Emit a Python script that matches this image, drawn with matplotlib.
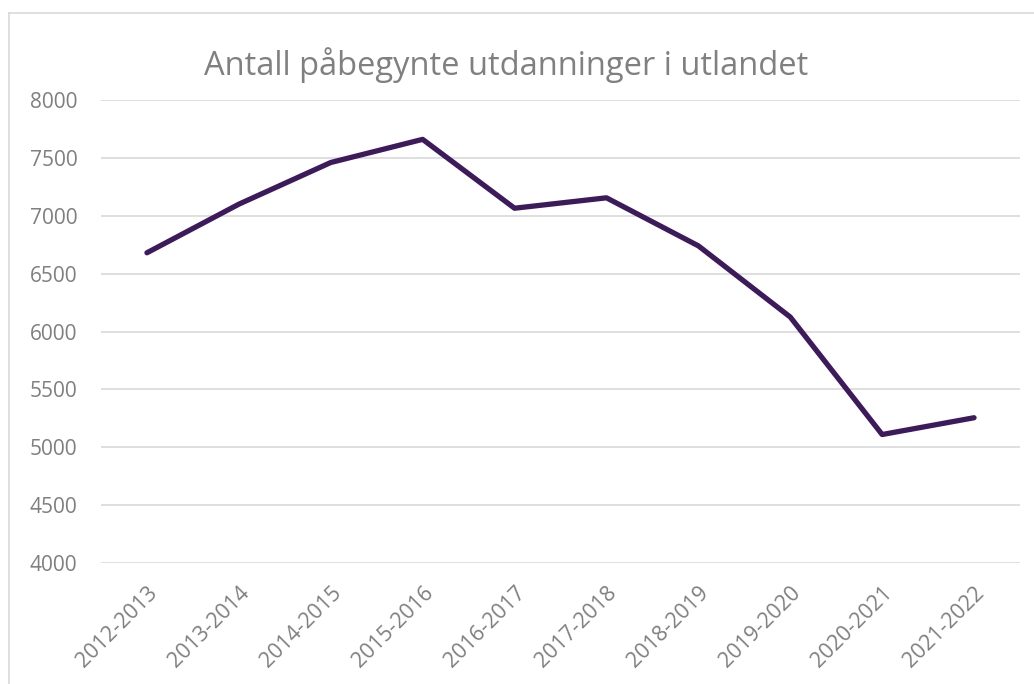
import matplotlib
matplotlib.use('Agg')
import matplotlib.pyplot as plt
from matplotlib.lines import Line2D

plt.rcParams['font.family'] = ['Open Sans', 'DejaVu Sans']

# ===== data =====
years = ['2012-2013', '2013-2014', '2014-2015', '2015-2016', '2016-2017',
         '2017-2018', '2018-2019', '2019-2020', '2020-2021', '2021-2022']
antall = [6680, 7100, 7460, 7660, 7065, 7155, 6740, 6125, 5110, 5255]
y_ticks = [4000, 4500, 5000, 5500, 6000, 6500, 7000, 7500, 8000]

W, H = 1034, 684
fig = plt.figure(figsize=(W / 100, H / 100), dpi=100)
ax = fig.add_axes([101 / W, 1 - 563 / H, (1020 - 101) / W, (563 - 100) / H])

grey = '#7f7f7f'
ax.plot(range(len(years)), antall, color='#3d1a5b', linewidth=3.8,
        solid_capstyle='round', solid_joinstyle='round', zorder=3)

ax.set_xlim(-0.5, len(years) - 0.5)
ax.set_ylim(4000, 8000)
ax.set_yticks(y_ticks)
ax.set_yticklabels([str(v) for v in y_ticks], fontsize=15, color=grey)
ax.set_xticks(range(len(years)))
ax.set_xticklabels(years, fontsize=15.5, color=grey, rotation=45,
                   ha='right', va='top', rotation_mode='anchor')
ax.tick_params(axis='both', length=0)
ax.tick_params(axis='y', pad=17)
ax.tick_params(axis='x', pad=14)
ax.grid(axis='y', color='#d9d9d9', linewidth=1.2)
ax.set_axisbelow(True)
for s in ax.spines.values():
    s.set_visible(False)

fig.text(506 / W, 1 - 65 / H, 'Antall påbegynte utdanninger i utlandet',
         ha='center', va='center', fontsize=23.5, color='#808080')

# chart border (left and top edges visible)
fig.add_artist(Line2D([9 / W, 9 / W], [0, 1 - 13 / H], transform=fig.transFigure,
                      color='#d9d9d9', linewidth=1.2))
fig.add_artist(Line2D([9 / W, 1], [1 - 13 / H, 1 - 13 / H], transform=fig.transFigure,
                      color='#d9d9d9', linewidth=1.2))

fig.savefig('out.png', dpi=100)
